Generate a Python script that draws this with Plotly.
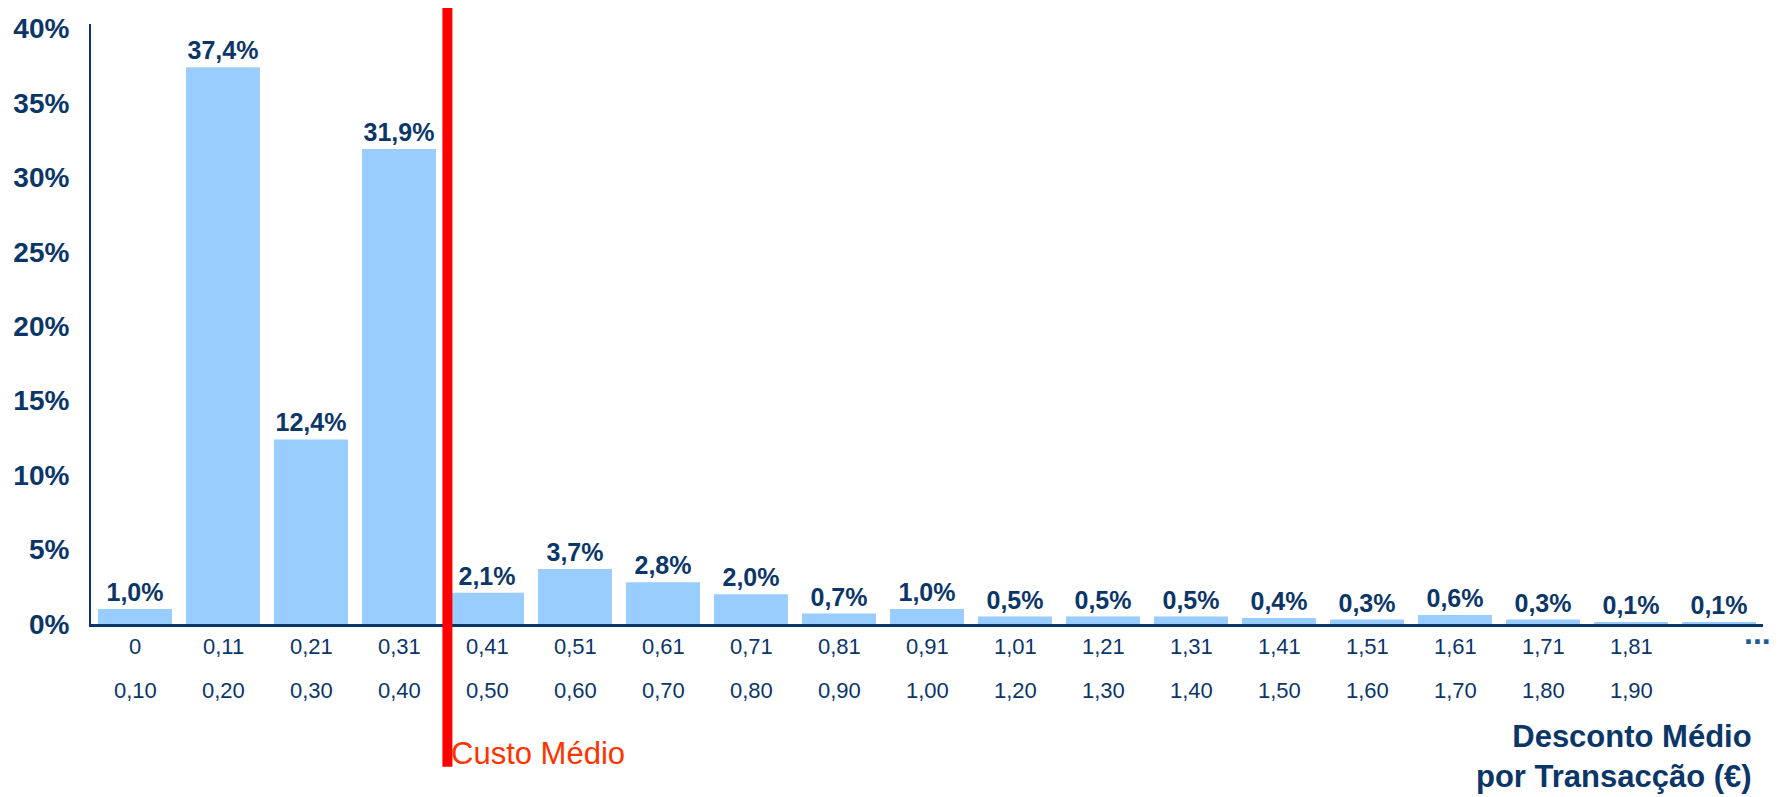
import plotly.graph_objects as go

# ---- data ----
lower_labels = ["0", "0,11", "0,21", "0,31", "0,41", "0,51", "0,61", "0,71", "0,81", "0,91",
                "1,01", "1,21", "1,31", "1,41", "1,51", "1,61", "1,71", "1,81", "..."]
upper_labels = ["0,10", "0,20", "0,30", "0,40", "0,50", "0,60", "0,70", "0,80", "0,90", "1,00",
                "1,20", "1,30", "1,40", "1,50", "1,60", "1,70", "1,80", "1,90", ""]
categories = [f"{a}-{b}" if b else a for a, b in zip(lower_labels, upper_labels)]
shares = [1.0, 37.4, 12.4, 31.9, 2.1, 3.7, 2.8, 2.0, 0.7, 1.0,
          0.5, 0.5, 0.5, 0.4, 0.3, 0.6, 0.3, 0.1, 0.1]
y_ticks = [0, 5, 10, 15, 20, 25, 30, 35, 40]
avg_cost_position = 3.55  # between 0,31-0,40 and 0,41-0,50 bins
avg_cost_label = "Custo Médio"
x_title = "Desconto Médio<br>por Transacção (€)"

NAVY = "#0B3668"
FONT = "Liberation Sans, Arial, sans-serif"

fig = go.Figure()
fig.add_trace(go.Bar(
    x=list(range(len(categories))),
    y=shares,
    marker=dict(color="#99CCFF", line=dict(width=0)),
    texttemplate="<b>%{y:.1f}%</b>",
    textposition="outside",
    textfont=dict(family=FONT, size=25, color=NAVY),
    cliponaxis=False,
    hovertext=categories,
))

fig.update_layout(
    width=1770, height=789,
    margin=dict(l=83, r=15, t=16, b=173, autoexpand=False),
    paper_bgcolor="white", plot_bgcolor="white",
    separators=",.",
    bargap=0.16,
    showlegend=False,
    font=dict(family=FONT, color=NAVY),
)
fig.update_xaxes(
    range=[-0.5, len(categories) - 0.5], automargin=False,
    showticklabels=False, ticks="", showgrid=False, zeroline=False,
    showline=True, linecolor=NAVY, linewidth=3,
)
fig.update_yaxes(
    range=[0, 40.3], tickvals=y_ticks, ticktext=[f"<b>{v}%</b>" for v in y_ticks],
    tickfont=dict(family=FONT, size=28, color=NAVY), automargin=False,
    ticks="", ticklabelstandoff=14,
    showgrid=False, zeroline=False,
    showline=True, linecolor=NAVY, linewidth=2,
)

# two-row category labels
for i, (lo, hi) in enumerate(zip(lower_labels, upper_labels)):
    if lo == "...":
        fig.add_annotation(x=i, y=-0.015, xref="x", yref="paper", text="<b>...</b>",
                           showarrow=False, xshift=38, yanchor="middle",
                           font=dict(family=FONT, size=32, color="#1F5A96"))
    else:
        fig.add_annotation(x=i, y=-0.038, xref="x", yref="paper", text=lo,
                           showarrow=False, yanchor="middle",
                           font=dict(family=FONT, size=22, color=NAVY))
    if hi:
        fig.add_annotation(x=i, y=-0.111, xref="x", yref="paper", text=hi,
                           showarrow=False, yanchor="middle",
                           font=dict(family=FONT, size=22, color=NAVY))

# average cost line
fig.add_shape(type="line", xref="x", yref="paper",
              x0=avg_cost_position, x1=avg_cost_position, y0=-0.238, y1=1.03,
              line=dict(color="#FF0000", width=10), layer="above")
fig.add_annotation(x=avg_cost_position, y=-0.215, xref="x", yref="paper",
                   text=avg_cost_label, showarrow=False, xanchor="left", yanchor="middle",
                   xshift=2, font=dict(family=FONT, size=31, color="#FF3300"))

# x axis title
fig.add_annotation(x=1, y=-0.22, xref="paper", yref="paper", text=f"<b>{x_title}</b>",
                   showarrow=False, xanchor="right", yanchor="middle", align="right",
                   xshift=-9, font=dict(family=FONT, size=31, color=NAVY))

fig.write_html("out.html")
